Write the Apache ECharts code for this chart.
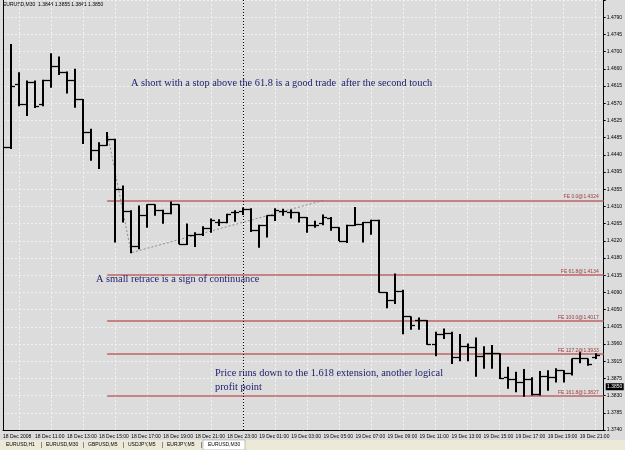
<!DOCTYPE html>
<html><head><meta charset="utf-8">
<script src="https://cdn.jsdelivr.net/npm/echarts@6/dist/echarts.min.js"></script>
<style>html,body{margin:0;padding:0;background:#dcdcdc}#c{width:625px;height:450px}</style>
</head><body><div id="c"></div><script>
// ---- data ----
const times = [
 '18 Dec 09:00','18 Dec 09:30','18 Dec 10:00','18 Dec 10:30','18 Dec 11:00','18 Dec 11:30','18 Dec 12:00','18 Dec 12:30',
 '18 Dec 13:00','18 Dec 13:30','18 Dec 14:00','18 Dec 14:30','18 Dec 15:00','18 Dec 15:30','18 Dec 16:00','18 Dec 16:30',
 '18 Dec 17:00','18 Dec 17:30','18 Dec 18:00','18 Dec 18:30','18 Dec 19:00','18 Dec 19:30','18 Dec 20:00','18 Dec 20:30',
 '18 Dec 21:00','18 Dec 21:30','18 Dec 22:00','18 Dec 22:30','18 Dec 23:00','18 Dec 23:30',
 '19 Dec 00:00','19 Dec 00:30','19 Dec 01:00','19 Dec 01:30','19 Dec 02:00','19 Dec 02:30','19 Dec 03:00','19 Dec 03:30',
 '19 Dec 04:00','19 Dec 04:30','19 Dec 05:00','19 Dec 05:30','19 Dec 06:00','19 Dec 06:30','19 Dec 07:00','19 Dec 07:30',
 '19 Dec 08:00','19 Dec 08:30','19 Dec 09:00','19 Dec 09:30','19 Dec 10:00','19 Dec 10:30','19 Dec 11:00','19 Dec 11:30',
 '19 Dec 12:00','19 Dec 12:30','19 Dec 13:00','19 Dec 13:30','19 Dec 14:00','19 Dec 14:30','19 Dec 15:00','19 Dec 15:30',
 '19 Dec 16:00','19 Dec 16:30','19 Dec 17:00','19 Dec 17:30','19 Dec 18:00','19 Dec 18:30','19 Dec 19:00','19 Dec 19:30',
 '19 Dec 20:00','19 Dec 20:30','19 Dec 21:00','19 Dec 21:30','19 Dec 22:00','19 Dec 22:30'
];
const opens = [
 1.4450,1.4459,1.4619,1.4568,1.4626,1.4568,1.4629,1.4665,1.4650,1.4629,
 1.4582,1.4499,1.4451,1.4466,1.4481,1.4354,1.4297,1.4207,1.4286,1.4314,
 1.4300,1.4292,1.4314,1.4214,1.4235,1.4238,1.4255,1.4268,1.4268,1.4294,
 1.4296,1.4301,1.4248,1.4262,1.4286,1.4296,1.4294,1.4294,1.4282,1.4262,
 1.4267,1.4278,1.4256,1.4222,1.4262,1.4265,1.4269,1.4273,1.4091,1.4070,
 1.4094,1.4029,1.4019,1.4019,1.3960,1.3985,1.3987,1.3926,1.3953,1.3950,
 1.3928,1.3935,1.3935,1.3874,1.3869,1.3862,1.3869,1.3831,1.3877,1.3874,
 1.3892,1.3885,1.3922,1.3922,1.3925
];
const highs = [
 1.4485,1.4722,1.4650,1.4629,1.4629,1.4631,1.4698,1.4690,1.4652,1.4659,
 1.4582,1.4506,1.4472,1.4498,1.4481,1.4362,1.4299,1.4311,1.4314,1.4314,
 1.4300,1.4321,1.4314,1.4265,1.4243,1.4258,1.4278,1.4276,1.4290,1.4299,
 1.4306,1.4304,1.4262,1.4286,1.4304,1.4303,1.4301,1.4294,1.4282,1.4272,
 1.4288,1.4282,1.4256,1.4262,1.4307,1.4269,1.4275,1.4275,1.4091,1.4138,
 1.4097,1.4029,1.4026,1.4020,1.3990,1.3998,1.3990,1.3984,1.3960,1.3975,
 1.3953,1.3956,1.3935,1.3901,1.3888,1.3895,1.3874,1.3890,1.3892,1.3897,
 1.3892,1.3922,1.3939,1.3922,1.3935
];
const lows = [
 1.4434,1.4456,1.4565,1.4540,1.4560,1.4565,1.4612,1.4644,1.4597,1.4561,
 1.4469,1.4426,1.4405,1.4464,1.4218,1.4269,1.4191,1.4201,1.4256,1.4286,
 1.4266,1.4290,1.4214,1.4212,1.4207,1.4235,1.4243,1.4260,1.4267,1.4271,
 1.4288,1.4245,1.4205,1.4231,1.4273,1.4286,1.4279,1.4269,1.4243,1.4256,
 1.4262,1.4248,1.4222,1.4217,1.4260,1.4218,1.4238,1.4091,1.4051,1.4062,
 1.3985,1.3996,1.3996,1.3958,1.3929,1.3973,1.3909,1.3916,1.3916,1.3877,
 1.3897,1.3897,1.3871,1.3846,1.3837,1.3826,1.3829,1.3829,1.3841,1.3862,
 1.3862,1.3880,1.3911,1.3905,1.3922
];
const closes = [
 1.4459,1.4615,1.4568,1.4626,1.4563,1.4629,1.4665,1.4650,1.4629,1.4582,
 1.4499,1.4451,1.4466,1.4481,1.4354,1.4297,1.4207,1.4286,1.4314,1.4300,
 1.4292,1.4314,1.4214,1.4235,1.4238,1.4255,1.4273,1.4268,1.4290,1.4294,
 1.4301,1.4248,1.4262,1.4286,1.4299,1.4296,1.4294,1.4282,1.4261,1.4262,
 1.4282,1.4256,1.4222,1.4262,1.4265,1.4269,1.4275,1.4091,1.4070,1.4094,
 1.4029,1.4008,1.4019,1.3960,1.3985,1.3987,1.3926,1.3953,1.3950,1.3928,
 1.3935,1.3935,1.3871,1.3869,1.3862,1.3869,1.3831,1.3877,1.3874,1.3892,
 1.3885,1.3922,1.3923,1.3907,1.3930
];
const xTickLabels = ['18 Dec 2008','18 Dec 11:00','18 Dec 13:00','18 Dec 15:00','18 Dec 17:00','18 Dec 19:00','18 Dec 21:00','18 Dec 23:00',
 '19 Dec 01:00','19 Dec 03:00','19 Dec 05:00','19 Dec 07:00','19 Dec 09:00','19 Dec 11:00','19 Dec 13:00','19 Dec 15:00',
 '19 Dec 17:00','19 Dec 19:00','19 Dec 21:00'];
const yTickLabels = ['1.3740','1.3785','1.3830','1.3875','1.3915','1.3960','1.4005','1.4050','1.4090','1.4135','1.4180','1.4220',
 '1.4265','1.4310','1.4355','1.4395','1.4440','1.4485','1.4525','1.4570','1.4615','1.4660','1.4700','1.4745','1.4790'];
const fibLevels = ['0.0','61.8','100.0','127.2','161.8'];
const fibPrices = [1.4324,1.4134,1.4017,1.3933,1.3827];
const fibToolTimes = ['18 Dec 15:30','18 Dec 17:00','19 Dec 05:00'];
const fibToolPrices = [1.4498,1.4191,1.4324];
const separatorTime = '19 Dec 00:00';
const lastPrice = 1.3850;
const titleText = 'EURUSD,M30  1.3844 1.3855 1.3841 1.3850';
const tabs = ['EURUSD,H1','EURUSD,M30','GBPUSD,M5','USDJPY,M5','EURJPY,M5','EURUSD,M30'];
const notes = ['A short with a stop above the 61.8 is a good trade  after the second touch',
 'A small retrace is a sign of continuance',
 'Price runs down to the 1.618 extension, another logical',
 'profit point'];

// ---- chart ----
const yMin = 1.3740, yStep = 0.004375, yMax = yMin + yStep * 25;
const ohlc = opens.map((o, i) => [i, o, highs[i], lows[i], closes[i]]);
const chart = echarts.init(document.getElementById('c'), null, {renderer: 'canvas'});
const small = {fontFamily: 'Liberation Sans', fontSize: 5, color: '#000'};
const noteStyle = {fontFamily: 'Liberation Serif', fontSize: 11, fill: '#1c1c6c', verticalAlign: 'middle'};
const note = (i, x, y) => ({type: 'text', x: x, y: y, scaleX: 0.94, z: 100,
  style: Object.assign({text: notes[i]}, noteStyle)});
const tabX = [6, 46, 88, 128, 167, 208];
const tabSepX = [41, 83, 123, 162, 201];

chart.setOption({
  animation: false,
  backgroundColor: '#dcdcdc',
  grid: {left: 0.5, right: 21, top: 0, bottom: 20, show: false},
  xAxis: {
    type: 'category', data: times, boundaryGap: false,
    axisLine: {show: true, lineStyle: {color: '#000', width: 1}},
    axisTick: {show: false},
    axisLabel: Object.assign({}, small, {
      interval: (i) => i % 4 === 0,
      formatter: (v, i) => (i % 4 === 0 && xTickLabels[i / 4]) ? xTickLabels[i / 4] : '',
      align: 'left', margin: 4, hideOverlap: false
    }),
    splitLine: {show: true, interval: (i) => i % 4 === 2, lineStyle: {type: [2, 2], color: '#f2f2f2', width: 1}}
  },
  yAxis: [{
    type: 'value', position: 'right', min: yMin, max: yMax, interval: yStep, scale: true,
    axisLine: {show: true, lineStyle: {color: '#000', width: 1}},
    axisTick: {show: true, length: 2, lineStyle: {color: '#000'}},
    axisLabel: Object.assign({}, small, {
      margin: 3,
      formatter: (v) => { const k = Math.round((v - yMin) / yStep); return yTickLabels[k] || ''; }
    }),
    splitLine: {show: true, lineStyle: {type: [2, 2], color: '#f2f2f2', width: 1}}
  }, {
    type: 'value', position: 'left', min: yMin, max: yMax, show: true,
    axisLine: {show: true, lineStyle: {color: '#000', width: 1}},
    axisTick: {show: false}, axisLabel: {show: false}, splitLine: {show: false}
  }],
  series: [
    {
      type: 'line', name: 'fe', data: fibToolTimes.map((t, i) => [t, fibToolPrices[i]]),
      symbol: 'none', lineStyle: {type: [2, 2], color: '#8c8c8c', width: 1}, z: 2,
      markLine: {
        silent: true, symbol: 'none', animation: false,
        data: fibPrices.map((p, i) => [
          {coord: [fibToolTimes[0], p], lineStyle: {color: '#bd6464', width: 1.5, type: 'solid'}},
          {coord: [times[times.length - 1], p],
           label: {show: true, position: 'insideEndTop', formatter: 'FE ' + fibLevels[i] + '@' + p.toFixed(4),
                   fontFamily: 'Liberation Sans', fontSize: 5, color: '#9a3c3c', distance: [5, 1]}}
        ]).concat([
          [{xAxis: separatorTime, y: 0}, {xAxis: separatorTime, y: 430, lineStyle: {color: '#000', type: [1, 2], width: 1}, label: {show: false}}]
        ])
      },
      markPoint: {
        silent: true, animation: false,
        data: [{coord: [times[times.length - 1], lastPrice], symbol: 'rect', symbolSize: [18, 7], symbolOffset: [11, 0],
                itemStyle: {color: '#000'},
                label: {show: true, position: 'inside', formatter: lastPrice.toFixed(4), color: '#fff',
                        fontFamily: 'Liberation Sans', fontSize: 5}}]
      }
    },
    {
      type: 'custom', name: 'EURUSD', data: ohlc, clip: true, z: 5,
      encode: {x: 0, y: [1, 2, 3, 4]},
      renderItem: (params, api) => {
        const k = api.value(0);
        const pO = api.coord([k, api.value(1)]);
        const pH = api.coord([k, api.value(2)]);
        const pL = api.coord([k, api.value(3)]);
        const pC = api.coord([k, api.value(4)]);
        const x = Math.round(pH[0]);
        const yo = Math.round(pO[1]) + 0.5, yc = Math.round(pC[1]) + 0.5;
        return {type: 'group', children: [
          {type: 'line', shape: {x1: x, y1: pH[1], x2: x, y2: pL[1] + 0.5}, style: {stroke: '#000', lineWidth: 2}},
          {type: 'line', shape: {x1: x - 4, y1: yo, x2: x, y2: yo}, style: {stroke: '#000', lineWidth: 1.3}},
          {type: 'line', shape: {x1: x, y1: yc, x2: x + 4, y2: yc}, style: {stroke: '#000', lineWidth: 1.3}}
        ]};
      }
    }
  ],
  graphic: [
    {type: 'text', left: 3, top: 2, style: {text: titleText, fontFamily: 'Liberation Sans', fontSize: 5, fill: '#000'}},
    note(0, 131, 83), note(1, 96, 279), note(2, 215, 373), note(3, 215, 387),
    {type: 'rect', shape: {x: 0, y: 440, width: 625, height: 10}, style: {fill: '#ece9d8'}, z: 10},
    {type: 'rect', shape: {x: 203, y: 440, width: 42, height: 10}, style: {fill: '#fff', stroke: '#888', lineWidth: 0.5}, z: 11},
    {type: 'group', z: 12, children: tabs.map((t, i) => ({
      type: 'text', x: tabX[i], y: 445,
      style: {text: t, fontFamily: 'Liberation Sans', fontSize: 5, fill: '#000', verticalAlign: 'middle'}, z: 12
    })).concat(tabSepX.map((x) => ({
      type: 'line', shape: {x1: x + 0.5, y1: 442, x2: x + 0.5, y2: 448}, style: {stroke: '#8a8a8a', lineWidth: 1}, z: 12
    })))}
  ]
});
</script></body></html>
